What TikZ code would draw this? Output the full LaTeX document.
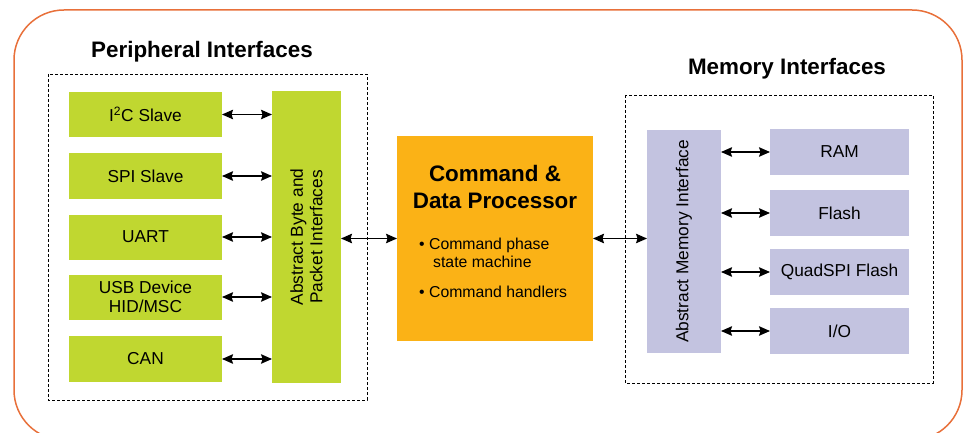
\documentclass[tikz,border=0pt]{standalone}
\usepackage{fontspec}
\setmainfont{Liberation Sans}
\usetikzlibrary{arrows.meta}
\definecolor{frameor}{RGB}{232,112,58}
\definecolor{pgreen}{RGB}{192,215,48}
\definecolor{porange}{RGB}{251,178,22}
\definecolor{plav}{RGB}{195,195,224}
\tikzset{
  box/.style={rectangle, inner sep=0pt, outer sep=0pt, align=center, text=black},
  gbox/.style={box, fill=pgreen, font=\fontsize{17.3}{19.5}\selectfont},
  lbox/.style={box, fill=plav, font=\fontsize{17.3}{19.5}\selectfont},
  dashbox/.style={draw=black, line width=0.9pt, dash pattern=on 3pt off 2pt},
  biarrow/.style={line width=1.3pt, {Stealth[length=11pt,width=9.5pt,inset=1.5pt]}-{Stealth[length=11pt,width=9.5pt,inset=1.5pt]}},
  titletext/.style={font=\fontsize{22.4}{26}\selectfont\bfseries, anchor=base, inner sep=0pt},
  bodytext/.style={font=\fontsize{15.8}{18}\selectfont, anchor=base west, inner sep=0pt}
}
\begin{document}
\begin{tikzpicture}[x=1pt,y=-1pt]
\useasboundingbox (0,0) rectangle (964,433);
\begin{scope}
\clip (0,0) rectangle (964,433);
\draw[frameor, line width=1.5pt, rounded corners=50pt] (14,10) rectangle (962,440);
\end{scope}

% titles
\node[titletext] (ptitle) at (202,58) {Peripheral Interfaces};
\node[titletext] (mtitle) at (787,75) {Memory Interfaces};

% dashed groups
\draw[dashbox] (48,74) rectangle (367,400);
\draw[dashbox] (625,95) rectangle (933,383);

% peripheral boxes
\node[gbox, minimum width=153pt, minimum height=45pt] (i2c)  at (145.5,114.5) {I\textsuperscript{2}C Slave};
\node[gbox, minimum width=153pt, minimum height=45pt] (spi)  at (145.5,176) {SPI Slave};
\node[gbox, minimum width=153pt, minimum height=45pt] (uart) at (145.5,237) {UART};
\node[gbox, minimum width=153pt, minimum height=45pt] (usb)  at (145.5,297) {USB Device\\HID/MSC};
\node[gbox, minimum width=153pt, minimum height=46pt] (can)  at (145.5,359) {CAN};

\node[gbox, minimum width=69pt, minimum height=292pt] (abs) at (306.5,237) {};
\node[box, rotate=90, font=\fontsize{17.3}{19.5}\selectfont] (abstxt) at (306.5,237) {Abstract Byte and\\Packet Interfaces};

% processor
\node[box, fill=porange, minimum width=196pt, minimum height=205pt] (proc) at (495,238.5) {};
\node[titletext] (pt1) at (495,182) {Command \&};
\node[titletext] (pt2) at (495,208) {Data Processor};
\node[bodytext] (b1) at (419,249) {\textbullet\ Command phase};
\node[bodytext] (b2) at (433,267) {state machine};
\node[bodytext] (b3) at (419,297) {\textbullet\ Command handlers};

% memory
\node[lbox, minimum width=74pt, minimum height=223pt] (mabs) at (684,241.5) {};
\node[box, rotate=90, font=\fontsize{17.3}{19.5}\selectfont] (mabstxt) at (684,241.5) {Abstract Memory Interface};
\node[lbox, minimum width=139pt, minimum height=46pt] (ram)   at (839.5,152) {RAM};
\node[lbox, minimum width=139pt, minimum height=46pt] (flash) at (839.5,213) {Flash};
\node[lbox, minimum width=139pt, minimum height=46pt] (qspi)  at (839.5,272) {QuadSPI Flash};
\node[lbox, minimum width=139pt, minimum height=46pt] (io)    at (839.5,331) {I/O};

% arrows
\foreach \n in {i2c,spi,uart,usb,can}
  \draw[biarrow] (\n.east) -- (\n.east -| abs.west);
\draw[biarrow] (abs.east |- proc.center) -- (proc.west);
\draw[biarrow] (proc.east) -- (proc.east -| mabs.west);
\foreach \n in {ram,flash,qspi,io}
  \draw[biarrow] (\n.west -| mabs.east) -- (\n.west);
\end{tikzpicture}
\end{document}
